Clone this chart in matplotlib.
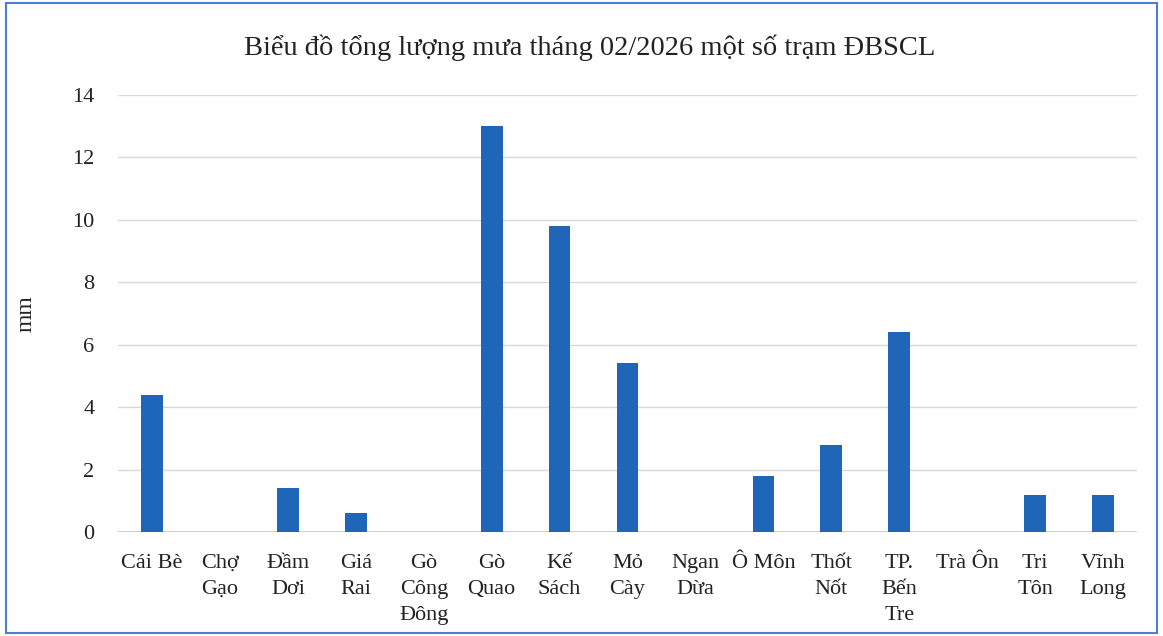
import matplotlib.pyplot as plt
import numpy as np

# Tổng lượng mưa tháng 02/2026 - một số trạm ĐBSCL
stations = ['Cái Bè', 'Chợ Gạo', 'Đầm Dơi', 'Giá Rai', 'Gò Công Đông', 'Gò Quao',
            'Kế Sách', 'Mỏ Cày', 'Ngan Dừa', 'Ô Môn', 'Thốt Nốt', 'TP. Bến Tre',
            'Trà Ôn', 'Tri Tôn', 'Vĩnh Long']
tick_labels = ['Cái Bè', 'Chợ\nGạo', 'Đầm\nDơi', 'Giá\nRai', 'Gò\nCông\nĐông', 'Gò\nQuao',
               'Kế\nSách', 'Mỏ\nCày', 'Ngan\nDừa', 'Ô Môn', 'Thốt\nNốt', 'TP.\nBến\nTre',
               'Trà Ôn', 'Tri\nTôn', 'Vĩnh\nLong']
rain_mm = [4.4, 0, 1.4, 0.6, 0, 13.0, 9.8, 5.4, 0, 1.8, 2.8, 6.4, 0, 1.2, 1.2]
y_ticks = [0, 2, 4, 6, 8, 10, 12, 14]

BAR = '#1f65b8'
GRID = '#d9d9d9'
TXT = '#222222'
FONT = ['Liberation Serif', 'DejaVu Serif']

fig = plt.figure(figsize=(11.63, 6.36), dpi=100)
fig.patch.set_facecolor('white')
ax = fig.add_axes([0.1015, 0.1635, 0.8762, 0.6871])

x = np.arange(len(stations))
ax.bar(x, rain_mm, width=0.32, color=BAR, zorder=3)

ax.set_xlim(-0.5, len(stations) - 0.5)
ax.set_ylim(0, 14)
ax.set_yticks(y_ticks)
ax.set_yticklabels([str(v) for v in y_ticks], family=FONT, fontsize=16, color=TXT)
ax.set_xticks(x)
ax.set_xticklabels(tick_labels, family=FONT, fontsize=16, color=TXT,
                   linespacing=1.48, va='top')
ax.tick_params(axis='both', length=0)
ax.tick_params(axis='x', pad=16)
ax.tick_params(axis='y', pad=17)

ax.grid(axis='y', color=GRID, linewidth=1.0, zorder=0)
for s in ax.spines.values():
    s.set_visible(False)
ax.axhline(0, color='#c8c8c8', linewidth=1.2, zorder=2)

ax.set_ylabel('mm', family=FONT, fontsize=17, color=TXT, labelpad=26)

fig.text(590 / 1163, 1 - 48 / 636,
         'Biểu đồ tổng lượng mưa tháng 02/2026 một số trạm ĐBSCL',
         family=FONT, fontsize=20.5, color=TXT, ha='center', va='center')

# scan frame
fig.add_artist(plt.Rectangle((0.005, 0.005), 0.99, 0.99, transform=fig.transFigure,
                             fill=False, edgecolor='#4a7fd4', linewidth=1.5))

fig.savefig('out.png', dpi=100, facecolor='white')
